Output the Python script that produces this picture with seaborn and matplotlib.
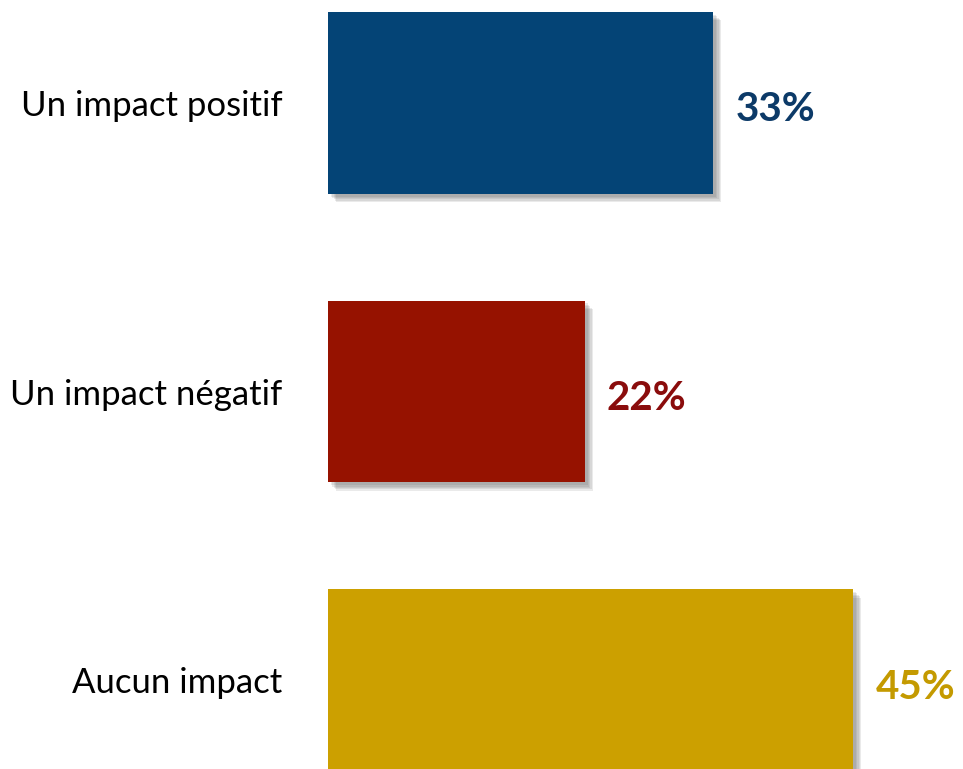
import seaborn as sns
from matplotlib import pyplot as plt
from matplotlib import patheffects as pe
import pandas as pd

categories = ['Un impact positif', 'Un impact négatif', 'Aucun impact']
values = [33, 22, 45]
bar_colors = ['#044476', '#961200', '#CCA000']
text_colors = ['#0C3A68', '#8A0C0C', '#C49A00']


def impact_chart():
    df = pd.DataFrame({'cat': categories, 'val': values})
    fig = plt.figure(figsize=(9.63, 7.69), dpi=100)
    ax = fig.add_axes([328 / 963, 0, 1 - 328 / 963, 1])
    sns.barplot(data=df, x='val', y='cat', hue='cat', palette=bar_colors,
                saturation=1, orient='h', width=0.63, legend=False, ax=ax)
    # soft drop shadow, faked with a few stacked offsets
    shadow = [pe.SimplePatchShadow(offset=(k, -k), shadow_rgbFace='#555555', alpha=0.12)
              for k in (6, 5, 4, 3, 2)]
    shadow.append(pe.Normal())
    for p in ax.patches:
        p.set_path_effects(shadow)
        p.set_linewidth(0)
    for i, v in enumerate(values):
        ax.annotate(f'{v}%', xy=(v, i), xytext=(16, -5), textcoords='offset points',
                    ha='left', va='center', fontsize=29, fontweight='bold',
                    color=text_colors[i], family=['Lato', 'DejaVu Sans'])
    ax.set_xlim(0, 635 / 11.67)
    ax.set_ylim(2.308, -0.357)
    ax.set_xlabel('')
    ax.set_ylabel('')
    ax.set_xticks([])
    ax.tick_params(axis='y', length=0, pad=33, labelsize=25)
    for lbl in ax.get_yticklabels():
        lbl.set_family(['Lato', 'DejaVu Sans'])
    for s in ax.spines.values():
        s.set_visible(False)
    fig.savefig('out.png', dpi=100)


if __name__ == '__main__':
    impact_chart()
